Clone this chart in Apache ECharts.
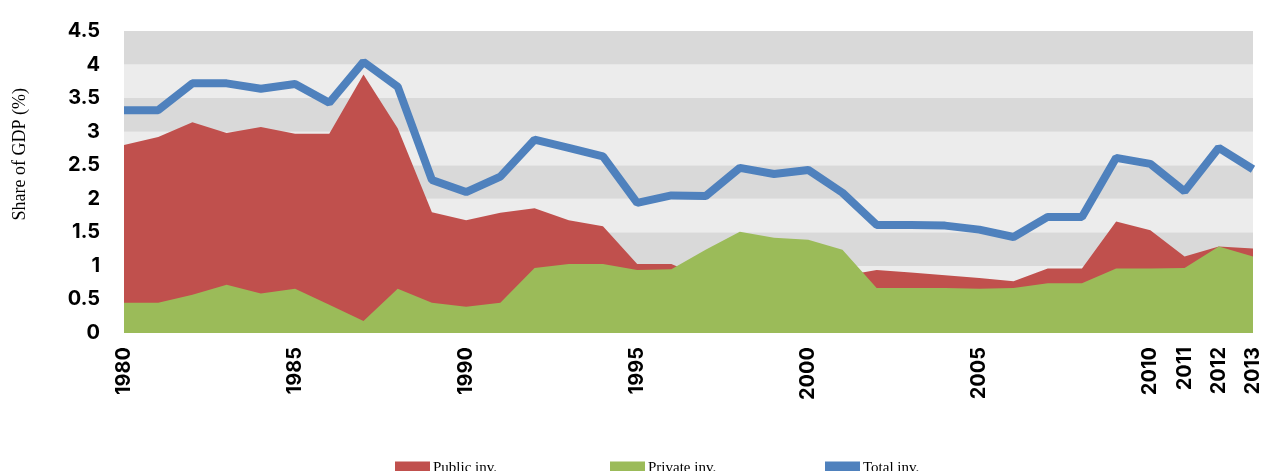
<!DOCTYPE html>
<html>
<head>
<meta charset="utf-8">
<script src="https://cdn.jsdelivr.net/npm/echarts@6/dist/echarts.min.js"></script>
<style>
  html, body { margin: 0; padding: 0; background: #fff; }
  #chart { width: 1263px; height: 471px; }
</style>
</head>
<body>
<div id="chart"></div>
<script>
// years on the x axis
const years = [
  "1980", "1981", "1982", "1983", "1984", "1985", "1986", "1987", "1988", "1989",
  "1990", "1991", "1992", "1993", "1994", "1995", "1996", "1997", "1998", "1999",
  "2000", "2001", "2002", "2003", "2004", "2005", "2006", "2007", "2008", "2009",
  "2010", "2011", "2012", "2013",
];
// only these years get a label
const shownYears = ["1980", "1985", "1990", "1995", "2000", "2005", "2010", "2011", "2012", "2013"];

// share of GDP (%)
const publicInv = [
  2.80, 2.92, 3.14, 2.98, 3.07, 2.97, 2.97, 3.85, 3.05, 1.80,
  1.68, 1.79, 1.86, 1.68, 1.59, 1.03, 1.03, 0.81, 0.95, 0.94,
  1.02, 0.85, 0.94, 0.90, 0.86, 0.82, 0.77, 0.96, 0.96, 1.66,
  1.53, 1.14, 1.29, 1.26,
];
const privateInv = [
  0.45, 0.45, 0.57, 0.72, 0.59, 0.66, 0.42, 0.18, 0.66, 0.45,
  0.39, 0.45, 0.97, 1.03, 1.03, 0.94, 0.95, 1.24, 1.51, 1.42,
  1.39, 1.24, 0.67, 0.67, 0.67, 0.66, 0.67, 0.74, 0.74, 0.96,
  0.96, 0.97, 1.29, 1.14,
];
const totalInv = [
  3.32, 3.32, 3.72, 3.72, 3.64, 3.71, 3.43, 4.04, 3.67, 2.28,
  2.10, 2.33, 2.88, 2.76, 2.63, 1.94, 2.05, 2.04, 2.46, 2.37,
  2.43, 2.09, 1.61, 1.61, 1.60, 1.54, 1.43, 1.73, 1.73, 2.61,
  2.52, 2.11, 2.76, 2.44,
];

const yTicks = { min: 0, max: 4.5, interval: 0.5 };

const RED = "#c0504d";
const GREEN = "#9bbb59";
const BLUE = "#4f81bd";
const SERIF = "'Liberation Serif', 'DejaVu Serif', serif";
const BOLD = "Inter, 'DejaVu Sans', sans-serif";

const chart = echarts.init(document.getElementById("chart"));

function legendAt(name, left) {
  return {
    data: [name],
    left: left,
    top: 456,
    itemWidth: 35,
    itemHeight: 14,
    itemGap: 0,
    icon: "rect",
    textStyle: { fontFamily: SERIF, fontSize: 15, color: "#000", padding: [0, 0, 0, -2] },
  };
}

chart.setOption({
  animation: false,
  backgroundColor: "#fff",
  grid: { left: 124, right: 7, top: 31, bottom: 138 },
  legend: [
    legendAt("Public inv.", 390),
    legendAt("Private inv.", 605),
    legendAt("Total inv.", 820),
  ],
  graphic: [
    {
      type: "text",
      left: 11,
      top: 88,
      rotation: Math.PI / 2,
      style: {
        text: "Share of GDP (%)",
        font: "18px " + SERIF,
        fill: "#000",
      },
    },
  ],
  xAxis: {
    type: "category",
    data: years,
    boundaryGap: false,
    axisLine: { show: false },
    axisTick: { show: false },
    axisLabel: {
      rotate: 90,
      margin: 14,
      fontFamily: BOLD,
      fontWeight: "bold",
      fontSize: 20,
      color: "#000",
      interval: (i, v) => shownYears.includes(v),
    },
    splitLine: { show: false },
  },
  yAxis: {
    type: "value",
    min: yTicks.min,
    max: yTicks.max,
    interval: yTicks.interval,
    axisLine: { show: false },
    axisTick: { show: false },
    axisLabel: {
      margin: 24,
      fontFamily: BOLD,
      fontWeight: "bold",
      fontSize: 20,
      color: "#000",
    },
    splitLine: { show: false },
    splitArea: {
      show: true,
      areaStyle: { color: ["#d9d9d9", "#ececec"] },
    },
  },
  series: [
    {
      name: "Public inv.",
      type: "line",
      data: publicInv,
      symbol: "none",
      lineStyle: { width: 0 },
      itemStyle: { color: RED },
      areaStyle: { color: RED, opacity: 1 },
      z: 2,
    },
    {
      name: "Private inv.",
      type: "line",
      data: privateInv,
      symbol: "none",
      lineStyle: { width: 0 },
      itemStyle: { color: GREEN },
      areaStyle: { color: GREEN, opacity: 1 },
      z: 3,
    },
    {
      name: "Total inv.",
      type: "line",
      data: totalInv,
      symbol: "none",
      lineStyle: { width: 8, color: BLUE },
      itemStyle: { color: BLUE },
      z: 4,
    },
  ],
});
</script>
</body>
</html>
